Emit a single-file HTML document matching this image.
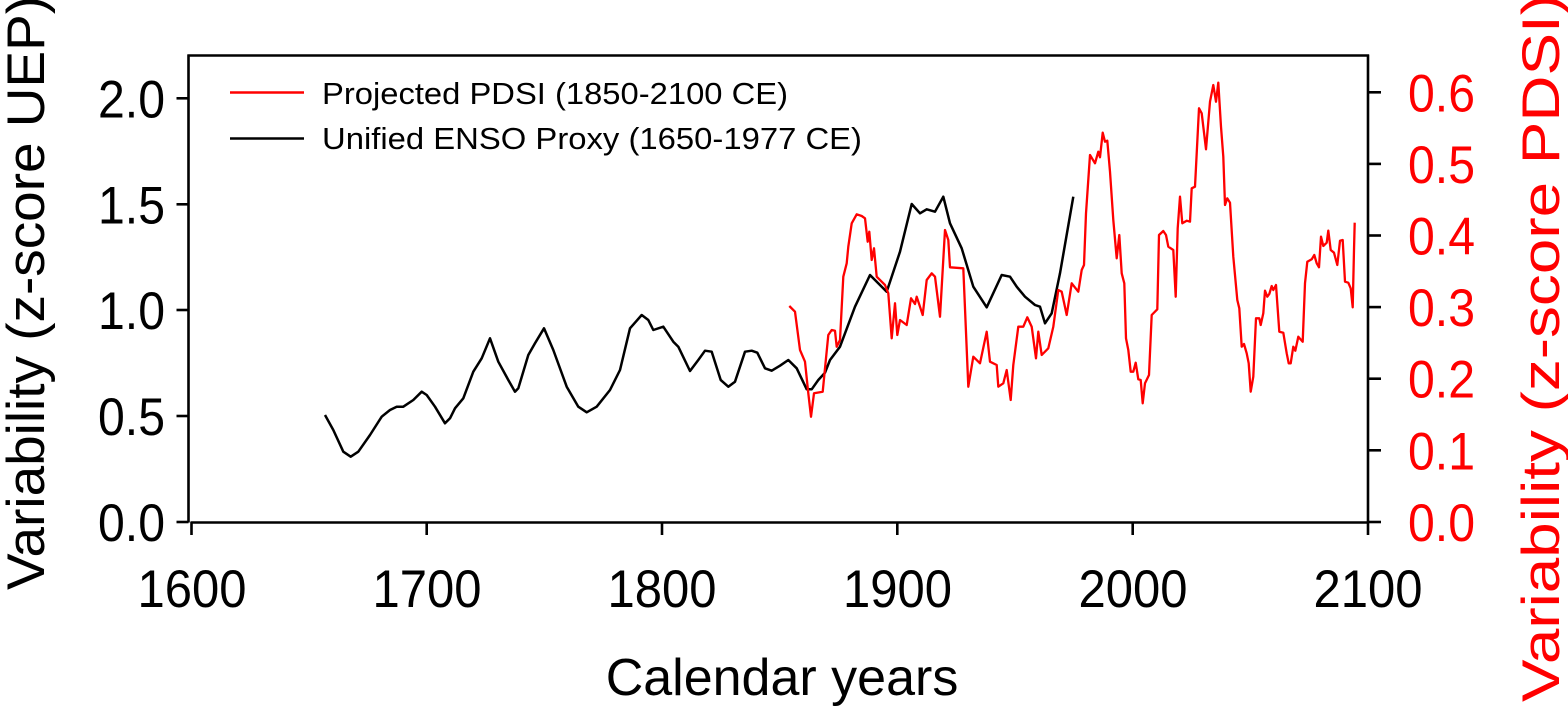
<!DOCTYPE html>
<html>
<head>
<meta charset="utf-8">
<style>
html,body{margin:0;padding:0;background:#fff;}
svg{display:block;}
text{font-family:"Liberation Sans",Arial,sans-serif;}
</style>
</head>
<body>
<svg width="1568" height="706" viewBox="0 0 1568 706" xmlns="http://www.w3.org/2000/svg">
<rect x="0" y="0" width="1568" height="706" fill="#fff"/>

<!-- frame / axes -->
<g stroke="#000" stroke-width="2.6" fill="none" stroke-linecap="butt">
  <line x1="188.5" y1="54.5" x2="188.5" y2="522.5"/>
  <line x1="187.5" y1="55.5" x2="1369" y2="55.5"/>
  <line x1="1368" y1="54.5" x2="1368" y2="535"/>
  <line x1="190.5" y1="522.5" x2="1369" y2="522.5"/>
  <!-- left ticks -->
  <line x1="176.5" y1="522" x2="188.5" y2="522"/>
  <line x1="176.5" y1="416" x2="188.5" y2="416"/>
  <line x1="176.5" y1="310" x2="188.5" y2="310"/>
  <line x1="176.5" y1="204.3" x2="188.5" y2="204.3"/>
  <line x1="176.5" y1="98.3" x2="188.5" y2="98.3"/>
  <!-- right ticks -->
  <line x1="1368" y1="92.3" x2="1381" y2="92.3"/>
  <line x1="1368" y1="163.9" x2="1381" y2="163.9"/>
  <line x1="1368" y1="235.5" x2="1381" y2="235.5"/>
  <line x1="1368" y1="307.1" x2="1381" y2="307.1"/>
  <line x1="1368" y1="378.7" x2="1381" y2="378.7"/>
  <line x1="1368" y1="450.3" x2="1381" y2="450.3"/>
  <line x1="1368" y1="522" x2="1381" y2="522"/>
  <!-- bottom ticks -->
  <line x1="191.5" y1="522" x2="191.5" y2="535"/>
  <line x1="426.7" y1="522" x2="426.7" y2="535"/>
  <line x1="662" y1="522" x2="662" y2="535"/>
  <line x1="897.3" y1="522" x2="897.3" y2="535"/>
  <line x1="1132.7" y1="522" x2="1132.7" y2="535"/>
</g>

<!-- left tick labels -->
<g font-size="53" fill="#000">
  <text x="98" y="541" textLength="67" lengthAdjust="spacingAndGlyphs">0.0</text>
  <text x="98" y="435" textLength="67" lengthAdjust="spacingAndGlyphs">0.5</text>
  <text x="98" y="329" textLength="67" lengthAdjust="spacingAndGlyphs">1.0</text>
  <text x="98" y="223.3" textLength="67" lengthAdjust="spacingAndGlyphs">1.5</text>
  <text x="98" y="117.3" textLength="67" lengthAdjust="spacingAndGlyphs">2.0</text>
</g>

<!-- right tick labels -->
<g font-size="53" fill="#ff0000">
  <text x="1408" y="111.3" textLength="67" lengthAdjust="spacingAndGlyphs">0.6</text>
  <text x="1408" y="182.9" textLength="67" lengthAdjust="spacingAndGlyphs">0.5</text>
  <text x="1408" y="254.5" textLength="67" lengthAdjust="spacingAndGlyphs">0.4</text>
  <text x="1408" y="326.1" textLength="67" lengthAdjust="spacingAndGlyphs">0.3</text>
  <text x="1408" y="397.7" textLength="67" lengthAdjust="spacingAndGlyphs">0.2</text>
  <text x="1408" y="469.3" textLength="67" lengthAdjust="spacingAndGlyphs">0.1</text>
  <text x="1408" y="541" textLength="67" lengthAdjust="spacingAndGlyphs">0.0</text>
</g>

<!-- x tick labels -->
<g font-size="53" fill="#000">
  <text x="137.5" y="607" textLength="109" lengthAdjust="spacingAndGlyphs">1600</text>
  <text x="372.5" y="607" textLength="109" lengthAdjust="spacingAndGlyphs">1700</text>
  <text x="607.5" y="607" textLength="109" lengthAdjust="spacingAndGlyphs">1800</text>
  <text x="843" y="607" textLength="109" lengthAdjust="spacingAndGlyphs">1900</text>
  <text x="1078.5" y="607" textLength="109" lengthAdjust="spacingAndGlyphs">2000</text>
  <text x="1313.5" y="607" textLength="109" lengthAdjust="spacingAndGlyphs">2100</text>
</g>

<!-- axis titles -->
<text x="782" y="695" font-size="52" text-anchor="middle" fill="#000">Calendar years</text>
<text transform="translate(44,590) rotate(-90)" x="0" y="0" font-size="53" fill="#000" textLength="594" lengthAdjust="spacingAndGlyphs">Variability (z-score UEP)</text>
<text transform="translate(1559,702) rotate(-90)" x="0" y="0" font-size="53" fill="#ff0000" textLength="708" lengthAdjust="spacingAndGlyphs">Variability (z-score PDSI)</text>

<!-- legend -->
<line x1="230" y1="92.5" x2="304" y2="92.5" stroke="#ff0000" stroke-width="2.4"/>
<text x="322" y="104" font-size="31" fill="#000" textLength="466" lengthAdjust="spacingAndGlyphs">Projected PDSI (1850-2100 CE)</text>
<line x1="230" y1="138.5" x2="304" y2="138.5" stroke="#000" stroke-width="2.4"/>
<text x="322" y="149" font-size="31" fill="#000" textLength="540" lengthAdjust="spacingAndGlyphs">Unified ENSO Proxy (1650-1977 CE)</text>

<!-- black series -->
<polyline fill="none" stroke="#000" stroke-width="2.5" stroke-linejoin="round" points="
325,415 333.3,430 343.3,451.7 350.7,456.7 358.3,451.7 370,435 381.7,416.7 390,410 396.7,406.7 403.3,406.7
413.3,400 421.7,391.7 426.7,395 435,406.7 445,423.3 450,418.3 455,408.3 463.3,398.3 473.3,371.7 481.7,358.3
490,338.3 498.3,361.7 508.3,380 515,391.7 518.3,388.3 528.3,355 535,343.3 544,328.3 553.3,350 566.7,386.7
578.3,406.7 586.7,412.3 596.7,406.7 610,390 620,370 630,328.3 641.7,315 648.3,320 653.3,330 663.3,326.7
673.3,341.7 678.3,346.7 690,371 698.3,360 705,350.7 711.7,351.7 720.7,380 728.3,386.7 735,381.7 745,351.7
751.7,350.7 757.3,352.7 765,368.3 771.7,370.7 780,365.7 788.3,360 796.7,368.3 806.7,389.3 811.7,389.3 818.3,380
825,372.7 830,360 840,346.7 855,306.7 870,275 886.7,291.7 900,251.7 911.7,204 920,213.3 926.7,209.3
935,211.7 943.3,196.7 950,223.3 961.7,248.3 973.3,286.7 986.7,307.3 1001.7,275 1010,276.7 1016.7,286.7 1025,296.7
1035,305 1040,306.7 1045,323.3 1051.7,313.3 1060,273.3 1073.3,196.7"/>

<!-- red series -->
<polyline fill="none" stroke="#ff0000" stroke-width="2.3" stroke-linejoin="round" points="
789.3,306 795,311.7 800,350 805,361.7 808.3,393.3 811,416.7 814,393.3 822.7,391.7 828.3,335 831.7,330
835,330.7 836.7,346.7 840,340 843.3,276.7 846.7,263.3 848.3,246.7 851.7,223.3 856.7,214.3 861.7,216 865,218.3
867.7,241.7 869.3,231.7 871.7,260 874,248.3 876.7,276.7 881.7,281.7 885,285 888.3,293.3 891.7,338.3 895,303.3
897.3,335 900,320 906.7,325 911,298.3 915,304 916.7,296.7 922.7,315 926.7,280 931.7,273.3 935,276.7
940,316.7 945,230 948.3,240 950,267.3 963.3,268.3 968.3,386.7 973.3,356.7 980,363.3 986.7,331.7 990,361.7
996.7,365 998.3,386.7 1003.3,383.3 1006.7,370 1010.7,400 1013.3,365 1018.3,326.7 1023.3,326.7 1027.3,317.3 1031.7,326.7
1036,358.3 1038.3,331.7 1041.7,355 1048.3,348.3 1053.3,326.7 1058.3,290 1061.7,291.7 1066.7,315 1071.7,283.3 1078.3,291.7
1081.7,270 1084,265 1086,213.3 1090,155 1095,163.3 1098.3,151.7 1100,157.3 1102.7,132.7 1105,141.7 1107.3,140.7
1110,171.7 1113.3,220 1116.7,258.3 1119.3,235 1121.7,273.3 1124.3,283.3 1126,338.3 1128.3,350 1130.7,371.7 1133.3,371.7
1135.7,362.7 1138.3,379.3 1140.7,380 1142.7,403.3 1145,383.3 1149,375 1151.7,315 1157.3,309.3 1159,235 1163.3,231
1166,235 1168.3,246.7 1173.3,250 1175.7,296.7 1177.7,228.3 1180,196.7 1182.3,223.3 1186.7,220.7 1190,221.7 1191.7,188.3
1195,186.7 1199,108.3 1201.7,113.3 1206,149.3 1210,101.7 1213.3,85 1216,101.7 1218.3,82.7 1221,126.7 1223.3,156.7
1225,205 1227.3,198.3 1230,202.7 1233.3,256.7 1237.3,300 1239.3,308.3 1241.7,346.7 1244,344 1246.7,353.3 1248.7,363.3
1250.7,391.7 1253.3,376.7 1256,318.3 1259.3,318.3 1260.7,325 1263.3,313.3 1265,290.7 1267.3,296.7 1269.3,294 1271.7,286
1273.3,290 1276,285 1279.3,331.7 1283.3,332.7 1286.7,353.3 1288.7,363.3 1290.7,363.3 1293.3,346.7 1295.3,350.7 1298.3,336.7
1302.7,341.7 1305,283.3 1307.3,261.7 1311.7,259.3 1314.3,255 1316.7,263.3 1319,267.3 1321,236.7 1323.3,246 1326.7,242.7
1328.3,230.7 1330.7,250 1334,252.7 1337.3,265 1340,240.7 1342.7,240 1345,281.7 1348.3,282.7 1350.7,288.3 1352.7,307.3
1354,250 1354.7,222.7"/>
</svg>
</body>
</html>
